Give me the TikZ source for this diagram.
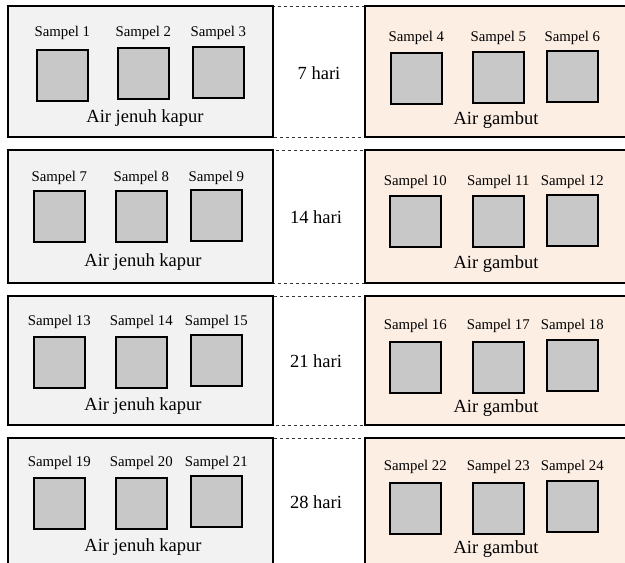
\documentclass[tikz,border=0pt]{standalone}
\usepackage{fontspec}
\setmainfont{Liberation Serif}
\definecolor{leftfill}{HTML}{F2F2F2}
\definecolor{rightfill}{HTML}{FDEEE4}
\definecolor{sqfill}{HTML}{C8C8C8}
\tikzset{
  panelL/.style={draw=black, line width=1.6pt, fill=leftfill},
  panelR/.style={draw=black, line width=1.6pt, fill=rightfill},
  midbox/.style={draw=black!80, dashed, line width=1pt},
  sq/.style={draw=black, line width=1.6pt, fill=sqfill, minimum width=51pt, minimum height=51pt, inner sep=0pt, anchor=north west},
  slabel/.style={font=\fontsize{14.8}{16}\selectfont, inner sep=0pt, yshift=-2pt},
  medium/.style={font=\fontsize{18.5}{20}\selectfont, inner sep=0pt, yshift=-2pt},
  daylabel/.style={font=\fontsize{18.5}{20}\selectfont, inner sep=0pt},
}
% \smp{id}{x}{y}{label y}{number}
\newcommand\smp[5]{%
  \node[sq] (s#1) at (#2,#3) {};
  \node[slabel] (t#1) at (s#1.north |- 0,#4) {Sampel #5};
}
\begin{document}
\begin{tikzpicture}[x=1pt,y=-1pt]
\useasboundingbox (0,0) rectangle (625,563);
\clip (0,0) rectangle (625,563);
% ---------- Row 1 ----------
\draw[midbox] (273,6) rectangle (365,137);
\path[panelL] (8,6) rectangle (273,137);
\path[panelR] (365,6) rectangle (640,137);
\node[daylabel] (d1) at (319,73) {7 hari};
\smp{1}{36}{49}{31}{1}
\smp{2}{117}{47}{31}{2}
\smp{3}{192}{46}{31}{3}
\node[medium] (a1) at (145,116) {Air jenuh kapur};
\smp{4}{390}{52}{36}{4}
\smp{5}{472}{51}{36}{5}
\smp{6}{546}{50}{36}{6}
\node[medium] (g1) at (496,118) {Air gambut};
% ---------- Row 2 ----------
\draw[midbox] (273,150) rectangle (365,283);
\path[panelL] (8,150) rectangle (273,283);
\path[panelR] (365,150) rectangle (640,283);
\node[daylabel] (d2) at (316,217) {14 hari};
\smp{7}{33}{190}{176}{7}
\smp{8}{115}{190}{176}{8}
\smp{9}{190}{189}{176}{9}
\node[medium] (a2) at (143,260) {Air jenuh kapur};
\smp{10}{389}{195}{180}{10}
\smp{11}{472}{195}{180}{11}
\smp{12}{546}{194}{180}{12}
\node[medium] (g2) at (496,262) {Air gambut};
% ---------- Row 3 ----------
\draw[midbox] (273,296) rectangle (365,425);
\path[panelL] (8,296) rectangle (273,425);
\path[panelR] (365,296) rectangle (640,425);
\node[daylabel] (d3) at (316,361) {21 hari};
\smp{13}{33}{336}{320}{13}
\smp{14}{115}{336}{320}{14}
\smp{15}{190}{334}{320}{15}
\node[medium] (a3) at (143,404) {Air jenuh kapur};
\smp{16}{389}{341}{324}{16}
\smp{17}{472}{341}{324}{17}
\smp{18}{546}{339}{324}{18}
\node[medium] (g3) at (496,406) {Air gambut};
% ---------- Row 4 ----------
\draw[midbox] (273,438) rectangle (365,600);
\path[panelL] (8,438) rectangle (273,600);
\path[panelR] (365,438) rectangle (640,600);
\node[daylabel] (d4) at (316,502) {28 hari};
\smp{19}{33}{477}{461}{19}
\smp{20}{115}{477}{461}{20}
\smp{21}{190}{475}{461}{21}
\node[medium] (a4) at (143,545) {Air jenuh kapur};
\smp{22}{389}{482}{465}{22}
\smp{23}{472}{482}{465}{23}
\smp{24}{546}{480}{465}{24}
\node[medium] (g4) at (496,547) {Air gambut};
\end{tikzpicture}
\end{document}
